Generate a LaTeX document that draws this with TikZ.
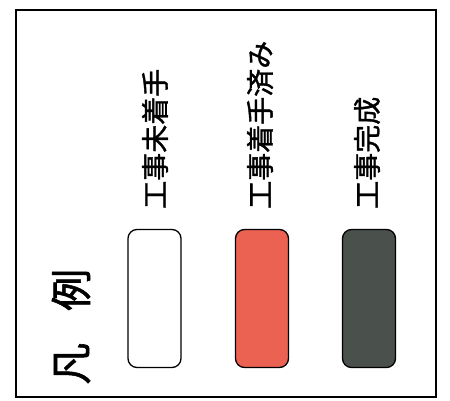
\documentclass[tikz,border=0pt]{standalone}
\usepackage{fontspec}
\newfontfamily\cjk[BoldFont={Noto Sans CJK JP}, BoldFeatures={FakeBold=1.3}]{Noto Sans CJK JP}
\definecolor{startred}{RGB}{236,98,82}
\definecolor{donegrey}{RGB}{74,80,76}
\tikzset{
  swatch/.style={draw=black, line width=1.3pt, rounded corners=9pt, minimum width=53pt, minimum height=138pt, inner sep=0pt},
  lab/.style={anchor=west, rotate=90, inner sep=0pt, font=\cjk\bfseries\fontsize{28}{28}\selectfont},
  ttl/.style={anchor=west, rotate=90, inner sep=0pt, font=\cjk\bfseries\fontsize{42}{42}\selectfont}
}
\begin{document}
\begin{tikzpicture}[x=1pt,y=-1pt]
\useasboundingbox (0,0) rectangle (450,401);
\fill[white] (0,0) rectangle (450,401);
\node[draw=black, line width=2pt, minimum width=420pt, minimum height=387pt, inner sep=0pt] (frame) at (226,203.5) {};
\node[swatch, fill=white] (s1) at (154.5,298.5) {};
\node[swatch, fill=startred] (s2) at (262,298.5) {};
\node[swatch, fill=donegrey] (s3) at (369,298.5) {};
\node[lab] (l1) at (155,209) {工事未着手};
\node[lab] (l2) at (260,209) {工事着手済み};
\node[lab] (l3) at (367,209) {工事完成};
\node[ttl] (t) at (71,385) {凡\hspace{32pt}例};
\end{tikzpicture}
\end{document}
